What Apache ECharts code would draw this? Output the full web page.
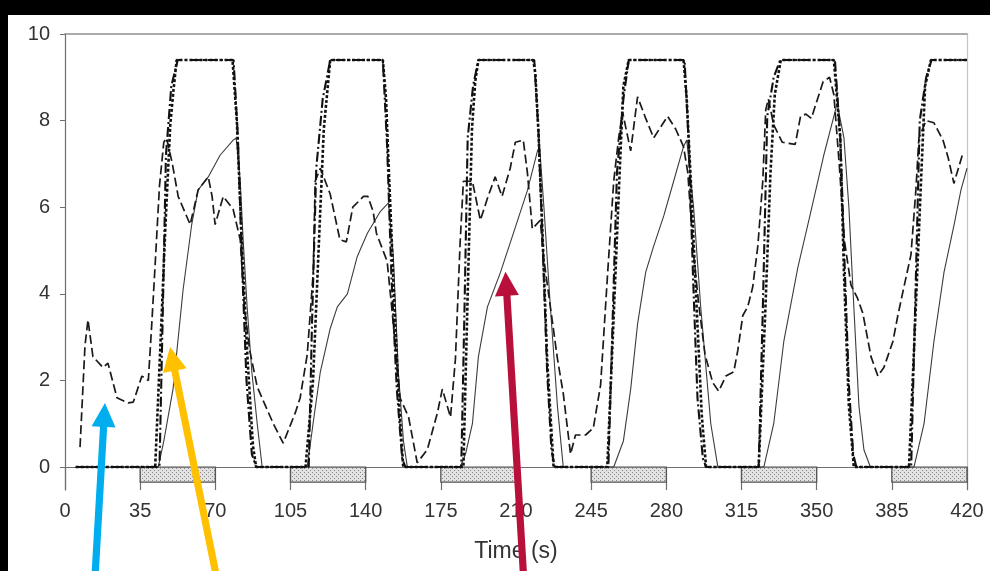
<!DOCTYPE html>
<html>
<head>
<meta charset="utf-8">
<script src="https://cdn.jsdelivr.net/npm/echarts@6/dist/echarts.min.js"></script>
<style>
  html, body { margin: 0; padding: 0; background: #fff; }
  #chart { width: 990px; height: 571px; }
</style>
</head>
<body>
<div id="chart"></div>
<script>
// Axis ticks
const xTicks = [0, 35, 70, 105, 140, 175, 210, 245, 280, 315, 350, 385, 420];
const yTicks = [0, 2, 4, 6, 8, 10];

// Stimulus periods shown as hatched bars under the time axis (s)
const pulseStarts = [35, 105, 175, 245, 315, 385];
const pulseEnds = [70, 140, 210, 280, 350, 420];

// Traces, [time (s), value]
const dottedTrace = [
  [5, 0], [42, 0], [44.5, 2.9], [46.7, 5.5], [49, 7.9], [50.5, 8.7], [52, 9.4], [78, 9.4],
  [80, 8.0], [82.5, 5.0], [85, 2.5], [87.5, 0.5], [89, 0],
  [112, 0], [115.5, 2.0], [118.5, 5.5], [120.5, 7.8], [122, 8.6], [123.5, 9.4], [148, 9.4],
  [149.5, 8.5], [150.5, 7.2], [153, 4.2], [155.5, 1.5], [157.5, 0],
  [185.5, 0], [187.5, 4.0], [189.5, 7.8], [191, 8.9], [192.5, 9.4], [218, 9.4],
  [219, 9.1], [220.5, 7.7], [222.5, 5.2], [224.5, 2.5], [227.5, 0],
  [252.5, 0], [255.5, 3.5], [258, 6.5], [260, 8.8], [262.5, 9.4], [288, 9.4],
  [289.5, 8.5], [291.5, 6.5], [294, 3.8], [296.5, 1.2], [298.5, 0],
  [323, 0], [326, 3.5], [328.5, 6.8], [330.5, 8.6], [333.3, 9.4], [358, 9.4],
  [361, 7.6], [362.7, 4.5], [365, 1.4], [367.3, 0],
  [393, 0], [396, 3.5], [398.5, 6.5], [400.5, 8.8], [403.2, 9.4], [420, 9.4]
];

const dashDotTrace = [
  [5, 0], [44, 0], [45.5, 3.5], [47, 7.2], [49.5, 8.8], [52.5, 9.4], [78.5, 9.4],
  [80.5, 7.6], [82.5, 4.6], [84.5, 2.0], [87, 0.3], [89, 0],
  [113.5, 0], [115, 3.3], [117, 6.9], [120, 8.5], [123.5, 9.4], [148, 9.4],
  [150, 7.4], [152, 4.4], [154.5, 1.8], [157, 0.2], [158.5, 0],
  [184.5, 0], [186, 3.6], [187.5, 7.6], [190, 8.8], [192.5, 9.4], [218.5, 9.4],
  [220.5, 7.7], [222.5, 5.0], [224.5, 2.2], [226.5, 0.4], [228, 0],
  [253, 0], [255, 3.4], [257, 6.8], [260, 8.5], [262.5, 9.4], [288.5, 9.4],
  [290.5, 7.4], [292.5, 4.3], [294.5, 1.6], [297, 0.2], [298.5, 0],
  [323, 0], [325, 3.8], [327, 8.1], [330, 9.0], [333, 9.4], [358.5, 9.4],
  [361, 7.6], [363, 4.7], [365, 1.9], [367, 0.3], [368.5, 0],
  [394, 0], [396, 4.0], [398, 8.0], [401, 9.0], [403.5, 9.4], [420, 9.4]
];

const dashedTrace = [
  [7, 0.46], [9.3, 2.8], [10.7, 3.4], [13, 2.55], [17.7, 2.3], [20, 2.4], [24.2, 1.6],
  [29.4, 1.48], [31.8, 1.5], [35.8, 2.1], [38.8, 2.0], [40.4, 3.3], [42, 4.7], [44, 6.5],
  [46, 7.5], [47.3, 7.6], [50, 7.0], [52.7, 6.25], [58.3, 5.6], [62, 6.4], [66.7, 6.7],
  [68.5, 6.25], [69.9, 5.6], [73.7, 6.25], [78.3, 5.95], [81.6, 5.25], [83.5, 3.7], [86, 2.7],
  [89.5, 1.85], [97, 1.0], [101.6, 0.55], [107.2, 1.25], [109.5, 1.6], [112.8, 2.6],
  [115.6, 4.5], [116.5, 6.6], [118.9, 6.9], [123.5, 6.3], [128, 5.25], [131, 5.2], [134, 6.0],
  [139, 6.25], [141, 6.25], [143.5, 5.9], [145, 5.4], [150, 4.75], [152.5, 3.5], [156, 1.6],
  [160, 1.15], [164, 0.1], [168.7, 0.4], [173.4, 1.25], [175.7, 1.8], [179.5, 1.15], [181.8, 2.5],
  [184, 5.2], [185.5, 6.6], [189.7, 6.6], [193.4, 5.7], [197, 6.25], [200.3, 6.7], [203.5, 6.25],
  [207.3, 6.9], [209.7, 7.5], [213.4, 7.55], [215.3, 6.8], [217.6, 5.5], [221.3, 5.7], [222.7, 4.9],
  [229.3, 2.5], [232, 1.7], [235.4, 0.3], [237.7, 0.74], [242.4, 0.74], [246, 0.9], [249.4, 1.9],
  [252.7, 4.5], [255.5, 6.6], [257.8, 7.6], [259.6, 8.2], [263.4, 7.3], [266.6, 8.55], [270.4, 8.05],
  [274.1, 7.6], [280.6, 8.1], [284.4, 7.8], [288, 7.4], [290, 6.8], [292.5, 5.0], [295, 3.8],
  [298, 2.6], [301.6, 1.95], [304.4, 1.75], [307.7, 2.1], [311.4, 2.2], [313.3, 2.7], [315.6, 3.5],
  [317.9, 3.7], [320.2, 4.15], [322.6, 5.1], [324.9, 6.6], [326.3, 8.25], [327.5, 8.5], [330, 7.9],
  [334, 7.5], [340, 7.45], [342.5, 8.1], [345, 8.15], [347.5, 8.05], [353, 8.9], [356, 9.0],
  [358, 8.6], [360.5, 7.0], [363, 5.2], [366, 4.2], [369, 3.9], [371.5, 3.55], [375.3, 2.55],
  [378.5, 2.1], [381.3, 2.3], [385.5, 2.9], [387.8, 3.5], [390.6, 4.15], [393.9, 4.9], [396.2, 6.4],
  [397.6, 7.6], [400.9, 8.0], [404.6, 7.95], [408.8, 7.55], [411.2, 7.15], [413.9, 6.55], [418.1, 7.25]
];

const solidTrace = [
  [5, 0], [43.4, 0], [46, 0.6], [50.3, 1.8], [55, 4.1], [59, 5.6], [62, 6.4], [66.7, 6.7],
  [72.2, 7.2], [78.3, 7.55], [79.7, 7.6], [81.6, 6.6], [83, 5.2], [84.8, 3.7], [87, 2.2],
  [89.5, 1.0], [91.8, 0],
  [112.8, 0], [115.5, 1.0], [118.9, 2.2], [123.5, 3.2], [126.8, 3.7], [131.5, 4.0], [136, 4.85],
  [140.8, 5.4], [146.8, 5.9], [150.6, 6.1], [152.9, 4.85], [155.2, 2.2], [157.6, 0.6], [159.4, 0],
  [184, 0], [186.5, 0.3], [189.7, 1.0], [192.5, 2.55], [196.7, 3.7], [202.8, 4.5], [208.8, 5.4],
  [215.4, 6.4], [220, 7.3], [221, 7.4], [223, 6.0], [226, 3.7], [229.3, 1.4], [232, 0],
  [255.5, 0], [260, 0.6], [263.4, 1.8], [266.6, 3.3], [270.4, 4.5], [274.1, 5.1], [278.8, 5.8],
  [283.4, 6.6], [288, 7.4], [289.5, 7.55], [292.7, 6.0], [296, 3.7], [300.7, 1.0], [304, 0],
  [325.4, 0], [330, 1.0], [334.7, 2.9], [341.2, 4.6], [347.3, 5.9], [353.3, 7.2], [358, 8.1],
  [359.5, 8.4], [362.7, 7.6], [365, 6.0], [367.3, 3.7], [369.7, 1.4], [372, 0.4], [375, 0],
  [395.3, 0], [400, 1.0], [404.6, 2.9], [409.3, 4.5], [414, 5.6], [417.2, 6.4], [420, 6.9]
];

// Callout arrows: tip and tail in data units
const arrowTips = [[18.6, 1.48], [48.9, 2.77], [205.1, 4.51]];
const arrowTails = [[14.0, -2.5], [70.4, -2.5], [213.5, -2.5]];
const arrowColors = ['#00aeef', '#ffc000', '#b8103a'];

const PULSE_DEPTH = -0.35;
const FONT = '"Liberation Sans", Arial, sans-serif';
const TEXT = '#333';

// Stippled fill for the stimulus bars
function makeHatch() {
  const c = document.createElement('canvas');
  c.width = 4; c.height = 4;
  const g = c.getContext('2d');
  g.fillStyle = '#e2e2e2';
  g.fillRect(0, 0, 4, 4);
  g.fillStyle = '#8a8a8a';
  g.fillRect(0, 0, 1, 1);
  g.fillRect(2, 2, 1, 1);
  return c;
}
const hatch = { image: makeHatch(), repeat: 'repeat' };

const chart = echarts.init(document.getElementById('chart'), null, { renderer: 'canvas' });

const lineBase = { type: 'line', showSymbol: false, symbol: 'none', smooth: false, animation: false };

chart.setOption({
  animation: false,
  backgroundColor: '#fff',
  grid: { left: 65, right: 23, top: 34, bottom: 81, containLabel: false, outerBoundsMode: 'none' },
  xAxis: [{
    type: 'value', min: 0, max: 420, interval: 35,
    name: 'Time (s)', nameLocation: 'middle', nameGap: 50, nameMoveOverlap: false,
    nameTextStyle: { fontFamily: FONT, fontSize: 23, color: TEXT },
    axisLine: { onZero: true, lineStyle: { color: '#6f6f6f', width: 1.2 } },
    axisTick: { show: true, length: 23, lineStyle: { color: '#6f6f6f', width: 1.2 } },
    axisLabel: { margin: 11, fontFamily: FONT, fontSize: 20, color: TEXT, showMinLabel: true, showMaxLabel: true },
    splitLine: { show: false }
  }, {
    type: 'value', min: 0, max: 420, position: 'top',
    axisLine: { show: true, onZero: false, lineStyle: { color: '#909090', width: 1.5 } },
    axisTick: { show: false }, axisLabel: { show: false }, splitLine: { show: false }
  }],
  yAxis: [{
    type: 'value', min: -0.53, max: 10,
    axisLine: { show: true, onZero: false, lineStyle: { color: '#6f6f6f', width: 1.2 } },
    axisTick: { show: true, length: 5, customValues: yTicks, lineStyle: { color: '#6f6f6f' } },
    axisLabel: { customValues: yTicks, margin: 15, fontFamily: FONT, fontSize: 20, color: TEXT },
    splitLine: { show: false }
  }, {
    type: 'value', min: -0.53, max: 10, position: 'right',
    axisLine: { show: true, onZero: false, lineStyle: { color: '#c4c4c4', width: 1.2 } },
    axisTick: { show: false }, axisLabel: { show: false }, splitLine: { show: false }
  }],
  series: [
    {
      type: 'custom', name: 'pulses', animation: false, z: 1,
      data: pulseStarts.map((s, i) => [s, pulseEnds[i]]),
      encode: { x: [0, 1] },
      renderItem: function (params, api) {
        const p0 = api.coord([api.value(0), 0]);
        const p1 = api.coord([api.value(1), PULSE_DEPTH]);
        return {
          type: 'rect',
          shape: { x: p0[0], y: p0[1], width: p1[0] - p0[0], height: p1[1] - p0[1] },
          style: { fill: hatch, stroke: '#555', lineWidth: 1.3 }
        };
      }
    },
    Object.assign({}, lineBase, {
      name: 'solid', data: solidTrace, z: 3,
      lineStyle: { color: '#3c3c3c', width: 1.1, type: 'solid' }
    }),
    Object.assign({}, lineBase, {
      name: 'dashed', data: dashedTrace, z: 4,
      lineStyle: { color: '#1a1a1a', width: 1.7, type: [9, 4] }
    }),
    Object.assign({}, lineBase, {
      name: 'dash-dot', data: dashDotTrace, z: 5,
      lineStyle: { color: '#111', width: 2.1, type: [10, 3, 2, 3] }
    }),
    Object.assign({}, lineBase, {
      name: 'dotted', data: dottedTrace, z: 6,
      lineStyle: { color: '#111', width: 2.6, type: [3, 2] }
    })
  ]
});

// Frame bands and callout arrows placed through the grid's coordinate system
function arrowPoints(tail, tip) {
  const dx = tip[0] - tail[0], dy = tip[1] - tail[1];
  const len = Math.hypot(dx, dy);
  const ux = dx / len, uy = dy / len;
  const nx = -uy, ny = ux;
  const headLen = 24, headHalf = 12, shaftHalf = 3.6;
  const bx = tip[0] - ux * headLen, by = tip[1] - uy * headLen;
  return [
    [tail[0] + nx * shaftHalf, tail[1] + ny * shaftHalf],
    [bx + nx * shaftHalf, by + ny * shaftHalf],
    [bx + nx * headHalf, by + ny * headHalf],
    [tip[0], tip[1]],
    [bx - nx * headHalf, by - ny * headHalf],
    [bx - nx * shaftHalf, by - ny * shaftHalf],
    [tail[0] - nx * shaftHalf, tail[1] - ny * shaftHalf]
  ];
}

const graphics = [
  { type: 'rect', shape: { x: 0, y: 0, width: 990, height: 15 }, style: { fill: '#000' }, z: 200 },
  { type: 'rect', shape: { x: 0, y: 0, width: 8, height: 571 }, style: { fill: '#000' }, z: 200 }
];
arrowTips.forEach((tip, i) => {
  const pTip = chart.convertToPixel({ gridIndex: 0 }, tip);
  const pTail = chart.convertToPixel({ gridIndex: 0 }, arrowTails[i]);
  graphics.push({
    type: 'polygon', z: 150,
    shape: { points: arrowPoints(pTail, pTip) },
    style: { fill: arrowColors[i] }
  });
});
chart.setOption({ graphic: graphics });
</script>
</body>
</html>
